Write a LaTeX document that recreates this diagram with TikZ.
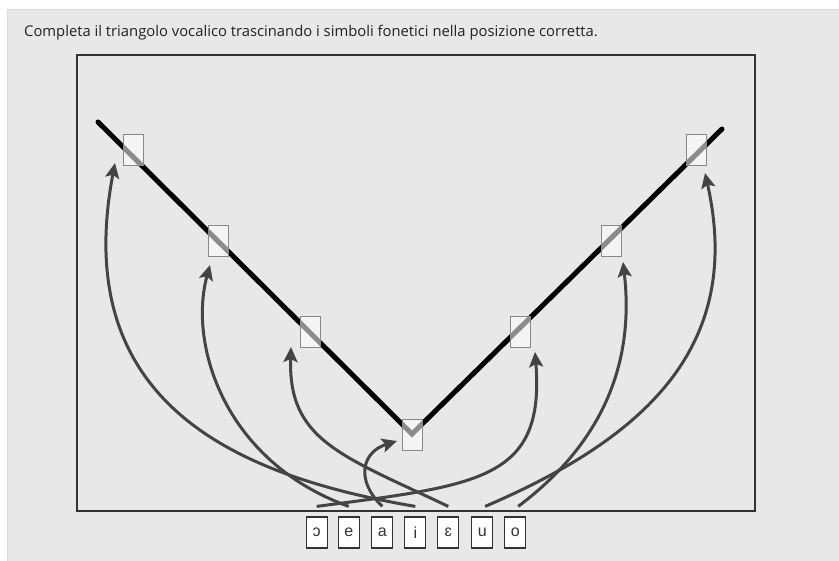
\documentclass[tikz,border=0pt]{standalone}
\usepackage{fontspec}
\setmainfont{Open Sans}
\newfontfamily\symfont{Liberation Sans}
\usetikzlibrary{arrows.meta}
\definecolor{panel}{HTML}{E8E8E8}
\definecolor{paneledge}{HTML}{DADADA}
\definecolor{framegrey}{HTML}{333333}
\definecolor{slotgrey}{HTML}{888888}
\definecolor{arrowgrey}{HTML}{444444}
\definecolor{titlecol}{HTML}{222222}
\begin{document}
\begin{tikzpicture}[x=1pt,y=-1pt,
  slot/.style={draw=slotgrey, line width=1pt, fill=white, fill opacity=0.55,
    minimum width=20pt, minimum height=31pt, inner sep=0pt},
  sym/.style={draw=framegrey, fill=white, line width=1.2pt, minimum width=21pt,
    minimum height=31pt, inner sep=0pt, text=framegrey,
    font=\symfont\fontsize{16}{16}\selectfont},
  arr/.style={draw=arrowgrey, line width=3pt,
    -{Stealth[length=15pt,width=14pt,inset=3pt]}},
]
% page and panel
\useasboundingbox (0,0) rectangle (839,561);
\fill[white] (0,0) rectangle (839,561);
\fill[panel] (7,9) rectangle (839,561);
\draw[paneledge, line width=1pt] (7.5,561) -- (7.5,9.5) -- (839,9.5);

% instruction
\node[anchor=base west, inner sep=0pt, text=titlecol,
  font=\fontsize{14.8}{17}\selectfont] (title) at (24,36.5)
  {Completa il triangolo vocalico trascinando i simboli fonetici nella posizione corretta.};

% drawing area
\draw[framegrey, line width=1.5pt] (77,55) rectangle (755,511);

% vowel triangle
\draw[line width=5pt, line cap=round] (98,122) -- (412,434) -- (722,129);

% drop slots
\node[slot] (s-i)  at (133,150.5) {};
\node[slot] (s-e)  at (218.5,241.5) {};
\node[slot] (s-eh) at (310,332.5) {};
\node[slot] (s-a)  at (412,435) {};
\node[slot] (s-oh) at (520,332.5) {};
\node[slot] (s-o)  at (611,241.5) {};
\node[slot] (s-u)  at (696,150.5) {};

% draggable symbols
\node[sym] (c-oh) at (316.7,532.5) {ɔ};
\node[sym] (c-e)  at (348.8,532.5) {e};
\node[sym] (c-a)  at (382.3,532.5) {a};
\node[sym] (c-i)  at (415.3,532.5) {i};
\node[sym] (c-eh) at (448.3,532.5) {ɛ};
\node[sym] (c-u)  at (482.2,532.5) {u};
\node[sym] (c-o)  at (515.2,532.5) {o};

% arrow starts above the symbols
\coordinate (b-oh) at ([yshift=10pt]c-oh.north);
\coordinate (b-e)  at ([yshift=10pt]c-e.north);
\coordinate (b-a)  at ([yshift=10pt]c-a.north);
\coordinate (b-i)  at ([yshift=10pt]c-i.north);
\coordinate (b-eh) at ([yshift=10pt]c-eh.north);
\coordinate (b-u)  at ([xshift=3pt,yshift=10pt]c-u.north);
\coordinate (b-o)  at ([xshift=3pt,yshift=10pt]c-o.north);

% arrow tips beside the slots
\coordinate (t-i)  at (115,163);
\coordinate (t-e)  at (210,265);
\coordinate (t-eh) at (291,347);
\coordinate (t-a)  at (397,441);
\coordinate (t-oh) at (535,352);
\coordinate (t-o)  at (623,262);
\coordinate (t-u)  at (705,173);

% arrows
\draw[arr] (b-i)  .. controls (230,475) and (70,400)  .. (t-i);
\draw[arr] (b-e)  .. controls (225,462) and (188,345) .. (t-e);
\draw[arr] (b-eh) .. controls (340,455) and (288,440) .. (t-eh);
\draw[arr] (b-a)  .. controls (355,480) and (362,452) .. (t-a);
\draw[arr] (b-oh) .. controls (480,485) and (545,480) .. (t-oh);
\draw[arr] (b-u)  .. controls (640,440) and (745,350) .. (t-u);
\draw[arr] (b-o)  .. controls (620,430) and (632,340) .. (t-o);
\end{tikzpicture}
\end{document}
